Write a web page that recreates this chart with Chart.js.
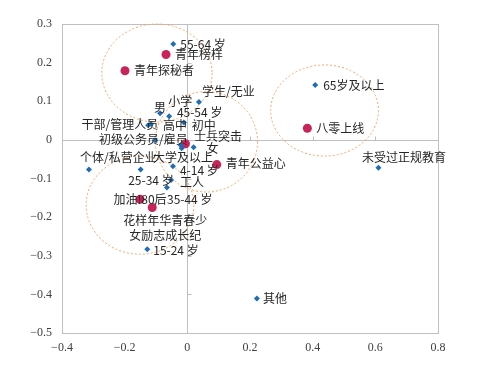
<!DOCTYPE html>
<html>
<head>
<meta charset="utf-8">
<script src="https://cdn.jsdelivr.net/npm/chart.js@4.4.1/dist/chart.umd.min.js"></script>
<style>
  html, body { margin: 0; padding: 0; background: #fff; }
  #wrap { width: 478px; height: 374px; }
</style>
</head>
<body>
<div id="wrap"><canvas id="mapChart"></canvas></div>
<script>
// audience groups (blue diamonds)
const groupLabels = ['55-64 岁', '65岁及以上', '学生/无业', '男', '小学', '45-54 岁', '干部/管理人员', '高中',
  '初中', '初级公务员/雇员', '女', '大学及以上', '个体/私营企业', '25-34 岁', '4-14 岁', '工人', '35-44 岁',
  '15-24 岁', '未受过正规教育', '其他'];
const groupX = [-0.045, 0.408, 0.037, -0.087, -0.058, -0.011, -0.125, -0.116,
  -0.021, -0.018, 0.020, -0.103, -0.314, -0.149, -0.046, -0.052, -0.065,
  -0.128, 0.610, 0.222];
const groupY = [0.248, 0.142, 0.098, 0.069, 0.061, 0.045, 0.038, 0.041,
  -0.014, -0.022, -0.019, -0.001, -0.077, -0.077, -0.068, -0.104, -0.123,
  -0.283, -0.072, -0.411];

// programmes (red circles)
const showLabels = ['青年榜样', '青年探秘者', '八零上线', '士兵突击', '青年公益心', '加油!80后', '花样年华青春少\n女励志成长纪'];
const showX = [-0.068, -0.199, 0.383, -0.006, 0.094, -0.151, -0.112];
const showY = [0.221, 0.179, 0.030, -0.010, -0.064, -0.154, -0.175];

// dashed clusters: centre x, centre y, radius x, radius y (axis units)
const clusterX = [-0.097, 0.438, 0.061, -0.151];
const clusterY = [0.173, 0.076, -0.005, -0.169];
const clusterRX = [0.176, 0.172, 0.163, 0.172];
const clusterRY = [0.127, 0.118, 0.130, 0.127];

const xTicks = [-0.4, -0.2, 0, 0.2, 0.4, 0.6, 0.8];
const yTicks = [0.3, 0.2, 0.1, 0, -0.1, -0.2, -0.3, -0.4, -0.5];

// where each label sits relative to its point [dx, dy, align]
const labelPos = {
  '55-64 岁': [7, 0, 'left'], '65岁及以上': [8, 0, 'left'], '学生/无业': [3, -10.5, 'left'],
  '男': [0, -6, 'center'], '小学': [-1, -15, 'left'], '45-54 岁': [-7, -10.5, 'left'],
  '干部/管理人员': [10, -1, 'right'], '高中': [12, 1, 'left'], '初中': [11, -20, 'left'],
  '初级公务员/雇员': [6, -9, 'right'], '女': [13, 1.5, 'left'], '大学及以上': [-2, 17, 'left'],
  '个体/私营企业': [-9, -12.5, 'left'], '25-34 岁': [-12.5, 10.5, 'left'], '4-14 岁': [7, 4, 'left'],
  '工人': [9, 2, 'left'], '35-44 岁': [0, 12, 'left'], '15-24 岁': [6, 1, 'left'],
  '未受过正规教育': [-16.5, -10.5, 'left'], '其他': [6, 0, 'left'],
  '青年榜样': [9, 0, 'left'], '青年探秘者': [9, 0, 'left'], '八零上线': [9, 0, 'left'],
  '士兵突击': [8.5, -7.5, 'left'], '青年公益心': [9, -1, 'left'], '加油!80后': [0, 0, 'center'],
  '花样年华青春少\n女励志成长纪': [13, 13, 'center']
};

const fmt = v => {
  const r = Math.round(v * 10) / 10;
  return r === 0 ? '0' : String(r).replace('-', '−');
};

const framePlugin = {
  id: 'frame',
  beforeDatasetsDraw(chart) {
    const { ctx, chartArea: a, scales: { x, y } } = chart;
    const x0 = Math.round(x.getPixelForValue(0)) + 0.5;
    const y0 = Math.round(y.getPixelForValue(0)) + 0.5;
    ctx.save();
    ctx.strokeStyle = '#BFBFBF';
    ctx.lineWidth = 1;
    ctx.strokeRect(Math.round(a.left) + 0.5, Math.round(a.top) + 0.5,
      Math.round(a.right - a.left), Math.round(a.bottom - a.top));
    ctx.beginPath();
    ctx.moveTo(a.left, y0); ctx.lineTo(a.right, y0);
    ctx.moveTo(x0, a.top); ctx.lineTo(x0, a.bottom);
    xTicks.forEach(t => {
      const px = Math.round(x.getPixelForValue(t)) + 0.5;
      ctx.moveTo(px, y0 - 4); ctx.lineTo(px, y0);
    });
    yTicks.forEach(t => {
      const py = Math.round(y.getPixelForValue(t)) + 0.5;
      ctx.moveTo(x0, py); ctx.lineTo(x0 + 4, py);
    });
    ctx.stroke();

    // dashed clusters
    ctx.strokeStyle = '#F2A66B';
    ctx.setLineDash([2, 2]);
    clusterX.forEach((cx, i) => {
      const px = x.getPixelForValue(cx);
      const py = y.getPixelForValue(clusterY[i]);
      const rx = Math.abs(x.getPixelForValue(cx + clusterRX[i]) - px);
      const ry = Math.abs(y.getPixelForValue(clusterY[i] + clusterRY[i]) - py);
      ctx.beginPath();
      ctx.ellipse(px, py, rx, ry, 0, 0, Math.PI * 2);
      ctx.stroke();
    });
    ctx.restore();
  }
};

const labelPlugin = {
  id: 'pointLabels',
  afterDatasetsDraw(chart) {
    const { ctx } = chart;
    ctx.save();
    ctx.fillStyle = '#262626';
    ctx.font = '12px "Noto Sans CJK SC", sans-serif';
    ctx.textBaseline = 'middle';
    chart.data.datasets.forEach((ds, di) => {
      chart.getDatasetMeta(di).data.forEach((el, i) => {
        const name = ds.names[i];
        const [dx, dy, align] = labelPos[name] || [7, 0, 'left'];
        ctx.textAlign = align;
        name.split('\n').forEach((line, li) => {
          ctx.fillText(line, el.x + dx, el.y + dy + li * 15);
        });
      });
    });
    ctx.restore();
  }
};

const config = {
  type: 'scatter',
  data: {
    datasets: [
      {
        label: 'groups',
        names: groupLabels,
        data: groupX.map((v, i) => ({ x: v, y: groupY[i] })),
        pointStyle: 'rectRot',
        radius: 3,
        backgroundColor: '#1F6DB5',
        borderColor: '#1F6DB5',
        borderWidth: 0
      },
      {
        label: 'programmes',
        names: showLabels,
        data: showX.map((v, i) => ({ x: v, y: showY[i] })),
        pointStyle: 'circle',
        radius: 4.5,
        backgroundColor: '#C9245A',
        borderColor: '#C9245A',
        borderWidth: 0
      }
    ]
  },
  options: {
    responsive: true,
    maintainAspectRatio: false,
    animation: false,
    layout: { padding: { top: 24, right: 40, left: 0, bottom: 0 } },
    plugins: {
      legend: { display: false },
      tooltip: { enabled: false }
    },
    scales: {
      x: {
        type: 'linear',
        min: -0.4,
        max: 0.8,
        afterFit: s => { s.height = 41; },
        afterBuildTicks: s => { s.ticks = xTicks.map(v => ({ value: v })); },
        grid: { display: false, drawTicks: false },
        border: { display: false },
        ticks: {
          padding: 8,
          maxRotation: 0,
          color: '#404040',
          font: { family: 'Liberation Serif', size: 12 },
          callback: fmt
        }
      },
      y: {
        type: 'linear',
        min: -0.5,
        max: 0.3,
        afterFit: s => { s.width = 62; },
        afterBuildTicks: s => { s.ticks = yTicks.map(v => ({ value: v })); },
        grid: { display: false, drawTicks: false },
        border: { display: false },
        ticks: {
          padding: 10,
          color: '#404040',
          font: { family: 'Liberation Serif', size: 12 },
          callback: fmt
        }
      }
    }
  },
  plugins: [framePlugin, labelPlugin]
};

const mapChart = new Chart(document.getElementById('mapChart').getContext('2d'), config);
</script>
</body>
</html>
